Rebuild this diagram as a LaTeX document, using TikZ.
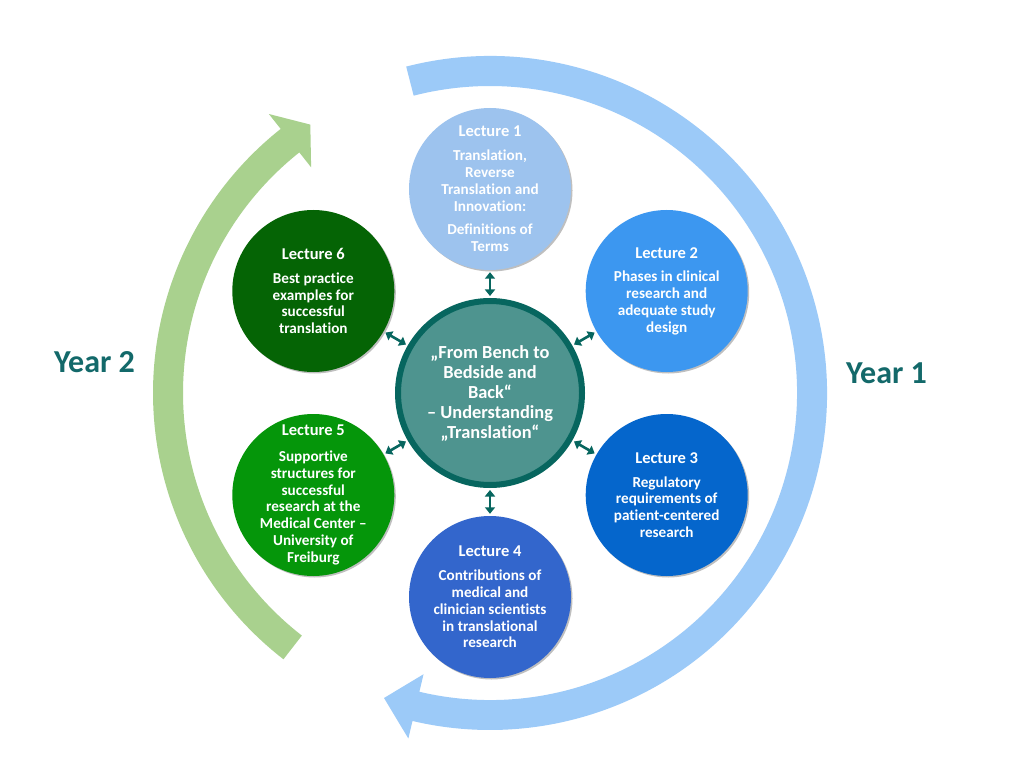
\documentclass[tikz,border=0pt]{standalone}
\usepackage{fontspec}
\setmainfont[Ligatures={NoCommon,NoContextual}]{Carlito}
\usetikzlibrary{arrows.meta,shadows}
\definecolor{arcblue}{HTML}{9CCAF8}
\definecolor{arcgreen}{HTML}{A9D18E}
\definecolor{lone}{HTML}{9DC3EE}
\definecolor{ltwo}{HTML}{3C97F0}
\definecolor{lthree}{HTML}{0566CC}
\definecolor{lfour}{HTML}{3366CC}
\definecolor{lfive}{HTML}{05960A}
\definecolor{lsix}{HTML}{056405}
\definecolor{hubfill}{HTML}{4E948F}
\definecolor{darkteal}{HTML}{07665F}
\definecolor{yeartext}{HTML}{13696A}
\newcommand{\lectitle}[1]{{\fontsize{16.5}{16.7}\selectfont #1}}
\begin{document}
\begin{tikzpicture}[x=1pt,y=1pt,
  lecture/.style={circle, minimum size=162pt, inner sep=-24pt, text=white,
    font=\bfseries\fontsize{15.2}{16.8}\selectfont, align=center,
    drop shadow={shadow xshift=1.5pt, shadow yshift=-1.5pt, opacity=0.25, fill=black}},
  hub/.style={circle, minimum size=184pt, inner sep=-30pt, draw=darkteal, line width=6pt,
    fill=hubfill, text=white, font=\bfseries\fontsize{18.4}{20}\selectfont, align=center},
  conn/.style={{Triangle[width=10pt,length=6.5pt]}-{Triangle[width=10pt,length=6.5pt]},
    draw=darkteal, line width=2.6pt, shorten >=2pt, shorten <=2pt},
  yearlabel/.style={text=yeartext, font=\bfseries\fontsize{32}{36}\selectfont, anchor=base, inner sep=0pt}
]
\fill[white] (0,0) rectangle (1024,756);
\useasboundingbox (0,0) rectangle (1024,756);

% cycle arrows
\begin{scope}[shift={(490,363)}]
  \fill[arcblue] (104.4:337pt) arc[start angle=104.4, end angle=-103.3, radius=337pt]
    -- (-103.3:355pt) -- (-106pt,-305pt) -- (-103.3:289pt) -- (-103.3:307pt)
    arc[start angle=-103.3, end angle=104.4, radius=307pt] -- cycle;
  \fill[arcgreen] (232.2:337pt) arc[start angle=232.2, end angle=128.4, radius=337pt]
    -- (128.4:356pt) -- (-179.7pt,268.4pt) -- (128.4:288pt) -- (128.4:307pt)
    arc[start angle=128.4, end angle=232.2, radius=307pt] -- cycle;
\end{scope}

\node[yearlabel] (y1) at (886.5,373) {Year 1};
\node[yearlabel] (y2) at (94.5,384) {Year 2};

% hub
\node[hub] (c) at (490,363) {„From Bench to\\Bedside and\\Back“\\– Understanding\\„Translation“};

% lectures
\node[lecture, fill=lone] (l1) at (490,567)
  {\lectitle{Lecture 1}\\[7pt]Translation,\\Reverse\\Translation and\\Innovation:\\[7pt]Definitions of\\Terms};
\node[lecture, fill=ltwo] (l2) at (666.7,465)
  {\lectitle{Lecture 2}\\[7pt]Phases in clinical\\research and\\adequate study\\design};
\node[lecture, fill=lthree] (l3) at (666.7,261)
  {\lectitle{Lecture 3}\\[7pt]Regulatory\\requirements of\\patient-centered\\research};
\node[lecture, fill=lfour] (l4) at (490,159)
  {\lectitle{Lecture 4}\\[7pt]Contributions of\\medical and\\clinician scientists\\in translational\\research};
\node[lecture, fill=lfive] (l5) at (313.3,261)
  {\lectitle{Lecture 5}\\[9pt]Supportive\\structures for\\successful\\research at the\\Medical Center –\\University of\\Freiburg};
\node[lecture, fill=lsix] (l6) at (313.3,465)
  {\lectitle{Lecture 6}\\[7pt]Best practice\\examples for\\successful\\translation};

% connectors
\foreach \n in {l1,l2,l3,l4,l5,l6}
  \draw[conn] (c) -- (\n);
\end{tikzpicture}
\end{document}
